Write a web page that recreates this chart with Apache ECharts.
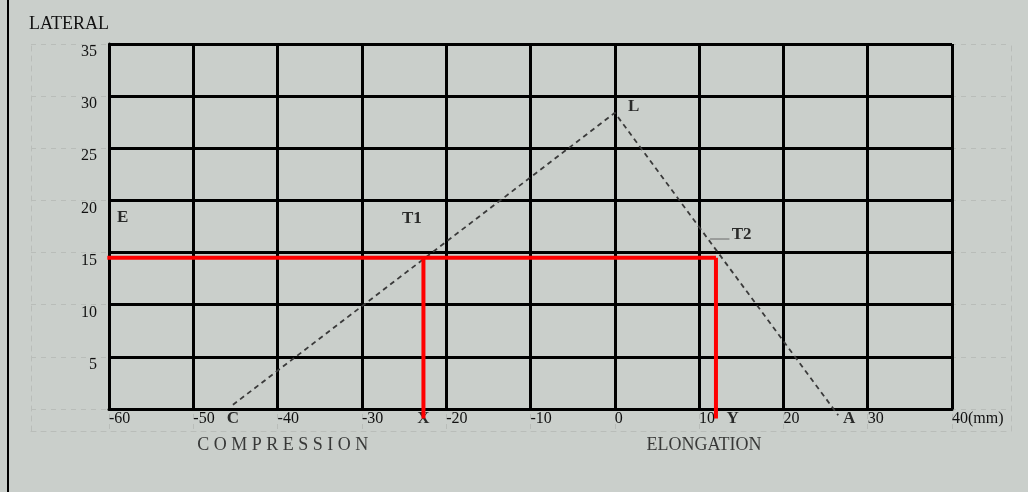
<!DOCTYPE html>
<html>
<head>
<meta charset="utf-8">
<script src="https://cdn.jsdelivr.net/npm/echarts@6/dist/echarts.min.js"></script>
<style>
html,body{margin:0;padding:0;background:#cacfcb;}
#chart{position:absolute;left:0;top:0;width:1028px;height:492px;}
#edge{position:absolute;left:7px;top:0;width:2px;height:492px;background:#000;}
</style>
</head>
<body>
<div id="chart"></div>
<div id="edge"></div>
<script>
// ---- data ----
const xTicks = { min: -60, max: 40, step: 10 };
const yTicks = { min: 0, max: 35, step: 5 };
const xUnitLabel = '(mm)';
const yAxisTitle = 'LATERAL';

// dashed envelope C -> L -> A
const envelope = [[-45.3, 0.4], [0, 28.4], [26.5, -0.6]];
// red construction lines
const redH = [[-60.2, 14.5], [12.0, 14.5]];
const redX = [[-22.7, 14.5], [-22.7, -0.9]];
const redY = [[12.0, 14.5], [12.0, -0.9]];
// leader for T2
const leaderT2 = [[11.3, 16.3], [13.6, 16.3]];
// point labels [text, x, y]
const pointLabels = [
  ['E', -59.1, 18.4], ['T1', -25.3, 18.3], ['L', 1.5, 29.0], ['T2', 13.8, 16.7],
  ['C', -46.1, -0.9], ['X', -23.5, -0.9], ['Y', 13.2, -0.9], ['A', 27.0, -0.9]
];
// captions [text, x, y]
const captions = [['C O M P R E S S I O N', -49.6, -3.5], ['ELONGATION', 3.7, -3.5]];

// ---- chart ----
const serif = '"Liberation Serif","Times New Roman",serif';
const dashGray = { color: '#b9bdb9', width: 1, type: [5, 5] };
const hidden = { show: false };

const chart = echarts.init(document.getElementById('chart'));
chart.setOption({
  animation: false,
  backgroundColor: '#cacfcb',
  grid: [
    { left: 109, right: 76, top: 44, bottom: 83 },
    { left: 31, right: 17, top: 44, bottom: 83 },
    { left: 109, right: 76, top: 44, bottom: 61 },
    { left: 31, right: 17, top: 44, bottom: 61 }
  ],
  xAxis: [
    {
      gridIndex: 0, type: 'value', min: xTicks.min, max: xTicks.max, interval: xTicks.step, z: 1,
      axisLine: { show: true, onZero: false, lineStyle: { color: '#000', width: 3 } },
      axisTick: hidden,
      splitLine: { show: true, lineStyle: { color: '#000', width: 3 } },
      axisLabel: {
        align: 'left', verticalAlign: 'top', margin: 2, color: '#111',
        fontFamily: serif, fontSize: 16,
        formatter: v => v === xTicks.max ? v + xUnitLabel : String(v)
      }
    },
    { gridIndex: 1, type: 'value', min: 0, max: 1, show: false },
    {
      gridIndex: 2, type: 'value', min: xTicks.min, max: xTicks.max, interval: xTicks.step, z: 0,
      axisLine: hidden, axisTick: hidden, axisLabel: hidden,
      splitLine: { show: true, lineStyle: dashGray }
    },
    {
      gridIndex: 3, type: 'value', min: 0, max: 1, z: 0,
      axisLine: { show: true, onZero: false, lineStyle: dashGray },
      axisTick: hidden, axisLabel: hidden, splitLine: hidden
    }
  ],
  yAxis: [
    {
      gridIndex: 0, type: 'value', min: yTicks.min, max: yTicks.max, interval: yTicks.step, z: 1,
      name: yAxisTitle, nameLocation: 'end', nameGap: 11,
      nameTextStyle: { align: 'right', verticalAlign: 'bottom', fontFamily: serif, fontSize: 18, color: '#111' },
      axisLine: { show: true, onZero: false, lineStyle: { color: '#000', width: 3 } },
      axisTick: hidden,
      splitLine: { show: true, lineStyle: { color: '#000', width: 3 } },
      axisLabel: {
        align: 'right', verticalAlign: 'top', margin: 12, color: '#111',
        fontFamily: serif, fontSize: 16,
        formatter: v => v === 0 ? '' : String(v)
      }
    },
    {
      gridIndex: 1, type: 'value', min: yTicks.min, max: yTicks.max, interval: yTicks.step, z: 0,
      axisLine: hidden, axisTick: hidden, axisLabel: hidden,
      splitLine: { show: true, lineStyle: dashGray }
    },
    { gridIndex: 2, type: 'value', min: 0, max: 1, show: false },
    {
      gridIndex: 3, type: 'value', min: 0, max: 1, position: 'left', z: 0,
      axisLine: { show: true, onZero: false, lineStyle: dashGray },
      axisTick: hidden, axisLabel: hidden, splitLine: hidden
    },
    {
      gridIndex: 3, type: 'value', min: 0, max: 1, position: 'right', z: 0,
      axisLine: { show: true, onZero: false, lineStyle: dashGray },
      axisTick: hidden, axisLabel: hidden, splitLine: hidden
    }
  ],
  series: [
    {
      type: 'line', data: envelope, symbol: 'none', clip: false, z: 4,
      lineStyle: { color: '#3a3a3a', width: 1.8, type: [5, 4] }
    },
    {
      type: 'line', data: leaderT2, symbol: 'none', clip: false, z: 4,
      lineStyle: { color: '#8a8c8a', width: 1.5 }
    },
    {
      type: 'scatter', clip: false, z: 5, symbolSize: 1,
      itemStyle: { color: 'rgba(0,0,0,0)' },
      data: pointLabels.map(p => ({ value: [p[1], p[2]], name: p[0] })),
      label: {
        show: true, position: 'right', distance: 0, formatter: p => p.name,
        fontFamily: serif, fontWeight: 'bold', fontSize: 17, color: '#000'
      }
    },
    {
      type: 'scatter', clip: false, z: 5, symbolSize: 1,
      itemStyle: { color: 'rgba(0,0,0,0)' },
      data: captions.map(p => ({ value: [p[1], p[2]], name: p[0] })),
      label: {
        show: true, position: 'right', distance: 0, formatter: p => p.name,
        fontFamily: serif, fontSize: 18, color: '#111'
      }
    },
    { type: 'line', data: redH, symbol: 'none', clip: false, z: 6, lineStyle: { color: '#ff0000', width: 4 } },
    { type: 'line', data: redX, symbol: 'none', clip: false, z: 6, lineStyle: { color: '#ff0000', width: 4 } },
    { type: 'line', data: redY, symbol: 'none', clip: false, z: 6, lineStyle: { color: '#ff0000', width: 4 } }
  ]
});
</script>
</body>
</html>
